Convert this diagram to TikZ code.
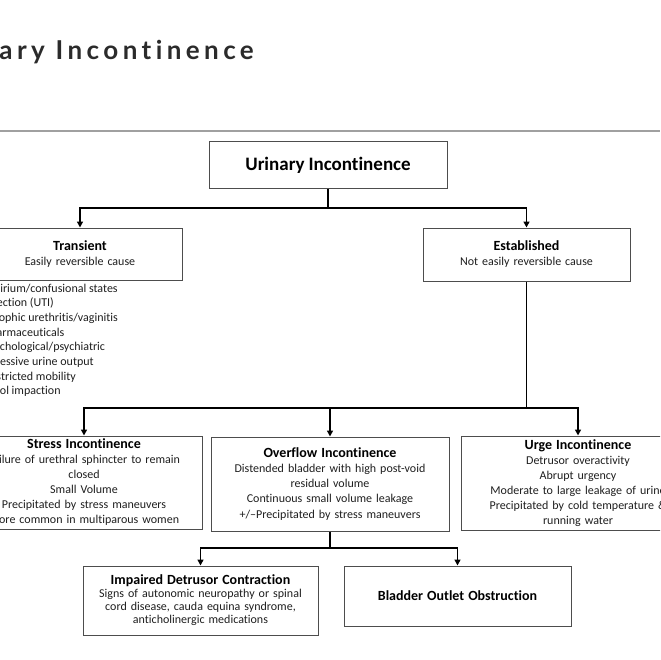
\documentclass[tikz,border=0pt]{standalone}
\usepackage{fontspec}
\setmainfont{Carlito}[Ligatures=NoCommon]
\newfontfamily\titlefont{Lato}[LetterSpace=17,Ligatures=NoCommon]
\usetikzlibrary{arrows.meta}
\definecolor{bodytext}{HTML}{1F1F1F}
\definecolor{boxgray}{HTML}{4D4D4D}
\definecolor{rulegray}{HTML}{A0A0A0}
\definecolor{titlegray}{HTML}{2B2B2B}
\newcommand\bxtitle[1]{{\fontsize{14}{17}\selectfont\bfseries\color{black}#1}}
\begin{document}
\begin{tikzpicture}[x=1pt,y=-1pt,
  box/.style={draw=boxgray, line width=1pt, fill=white, align=center,
    inner xsep=2pt, inner ysep=0pt, text=bodytext,
    font=\fontsize{12}{15}\selectfont},
  conn/.style={line width=1.8pt, draw=black},
  arr/.style={conn, -{Triangle[width=6pt,length=6pt]}},
  listitem/.style={anchor=base west, inner sep=0pt, text=bodytext,
    font=\fontsize{12}{15}\selectfont}
  ]
\useasboundingbox (0,0) rectangle (660,660);
\fill[white] (0,0) rectangle (660,660);
\clip (0,0) rectangle (660,660);

% title and rule
\node[anchor=base east, inner sep=0pt, text=titlegray,
  font=\titlefont\bfseries\fontsize{26}{30}\selectfont] (title) at (254,60) {Urinary Incontinence};
\draw[rulegray, line width=2pt] (0,131) -- (660,131);

% boxes
\node[box, minimum width=238pt, text width=234pt, minimum height=47pt] (top) at (328,165.5)
  {{\fontsize{19}{22}\selectfont\bfseries\color{black}Urinary Incontinence}};
\node[box, minimum width=204pt, text width=200pt, minimum height=52pt] (transient) at (80,254)
  {\bxtitle{Transient}\\Easily reversible cause};
\node[box, minimum width=207pt, text width=203pt, minimum height=53pt] (established) at (526.5,254.5)
  {\bxtitle{Established}\\Not easily reversible cause};
\node[box, minimum width=236pt, text width=232pt, minimum height=93pt] (stress) at (84,482.5)
  {\bxtitle{Stress Incontinence}\\Failure of urethral sphincter to remain\\closed\\Small Volume\\Precipitated by stress maneuvers\\More common in multiparous women};
\node[box, minimum width=238pt, text width=234pt, minimum height=94pt] (overflow) at (330,484)
  {\bxtitle{Overflow Incontinence}\\Distended bladder with high post-void\\residual volume\\Continuous small volume leakage\\[1.5pt]+/--Precipitated by stress maneuvers};
\node[box, minimum width=234pt, text width=230pt, minimum height=94pt] (urge) at (578,483)
  {\bxtitle{Urge Incontinence}\\Detrusor overactivity\\Abrupt urgency\\Moderate to large leakage of urine\\Precipitated by cold temperature \&\\running water};
\node[box, minimum width=235pt, text width=231pt, minimum height=69pt,
  font=\fontsize{12}{13}\selectfont] (impaired) at (200.5,600.5)
  {\bxtitle{Impaired Detrusor Contraction}\\Signs of autonomic neuropathy or spinal\\cord disease, cauda equina syndrome,\\anticholinergic medications};
\node[box, minimum width=227pt, text width=223pt, minimum height=60pt] (bladder) at (457.5,596)
  {\bxtitle{Bladder Outlet Obstruction}};

% transient causes list
\foreach \t [count=\i] in {Delirium/confusional states, Infection (UTI),
  Atrophic urethritis/vaginitis, Pharmaceuticals, Psychological/psychiatric,
  Excessive urine output, Restricted mobility, Stool impaction}
  \node[listitem] (list\i) at (-16,{292+14.7*(\i-1)}) {\t};

% connectors
\coordinate (j1) at (328,208);
\draw[conn] (top.south) -- (j1);
\draw[arr] (j1) -| (transient.north);
\draw[arr] (j1) -| (established.north);

\coordinate (j2) at (526.5,408);
\draw[conn] (established.south) -- (j2);
\draw[arr] (j2) -| (stress.north);
\draw[arr] (j2) -| (overflow.north);
\draw[arr] (j2) -| (urge.north);

\coordinate (j3) at (330,548);
\draw[conn] (overflow.south) -- (j3);
\draw[arr] (j3) -| (impaired.north);
\draw[arr] (j3) -| (bladder.north);
\end{tikzpicture}
\end{document}
